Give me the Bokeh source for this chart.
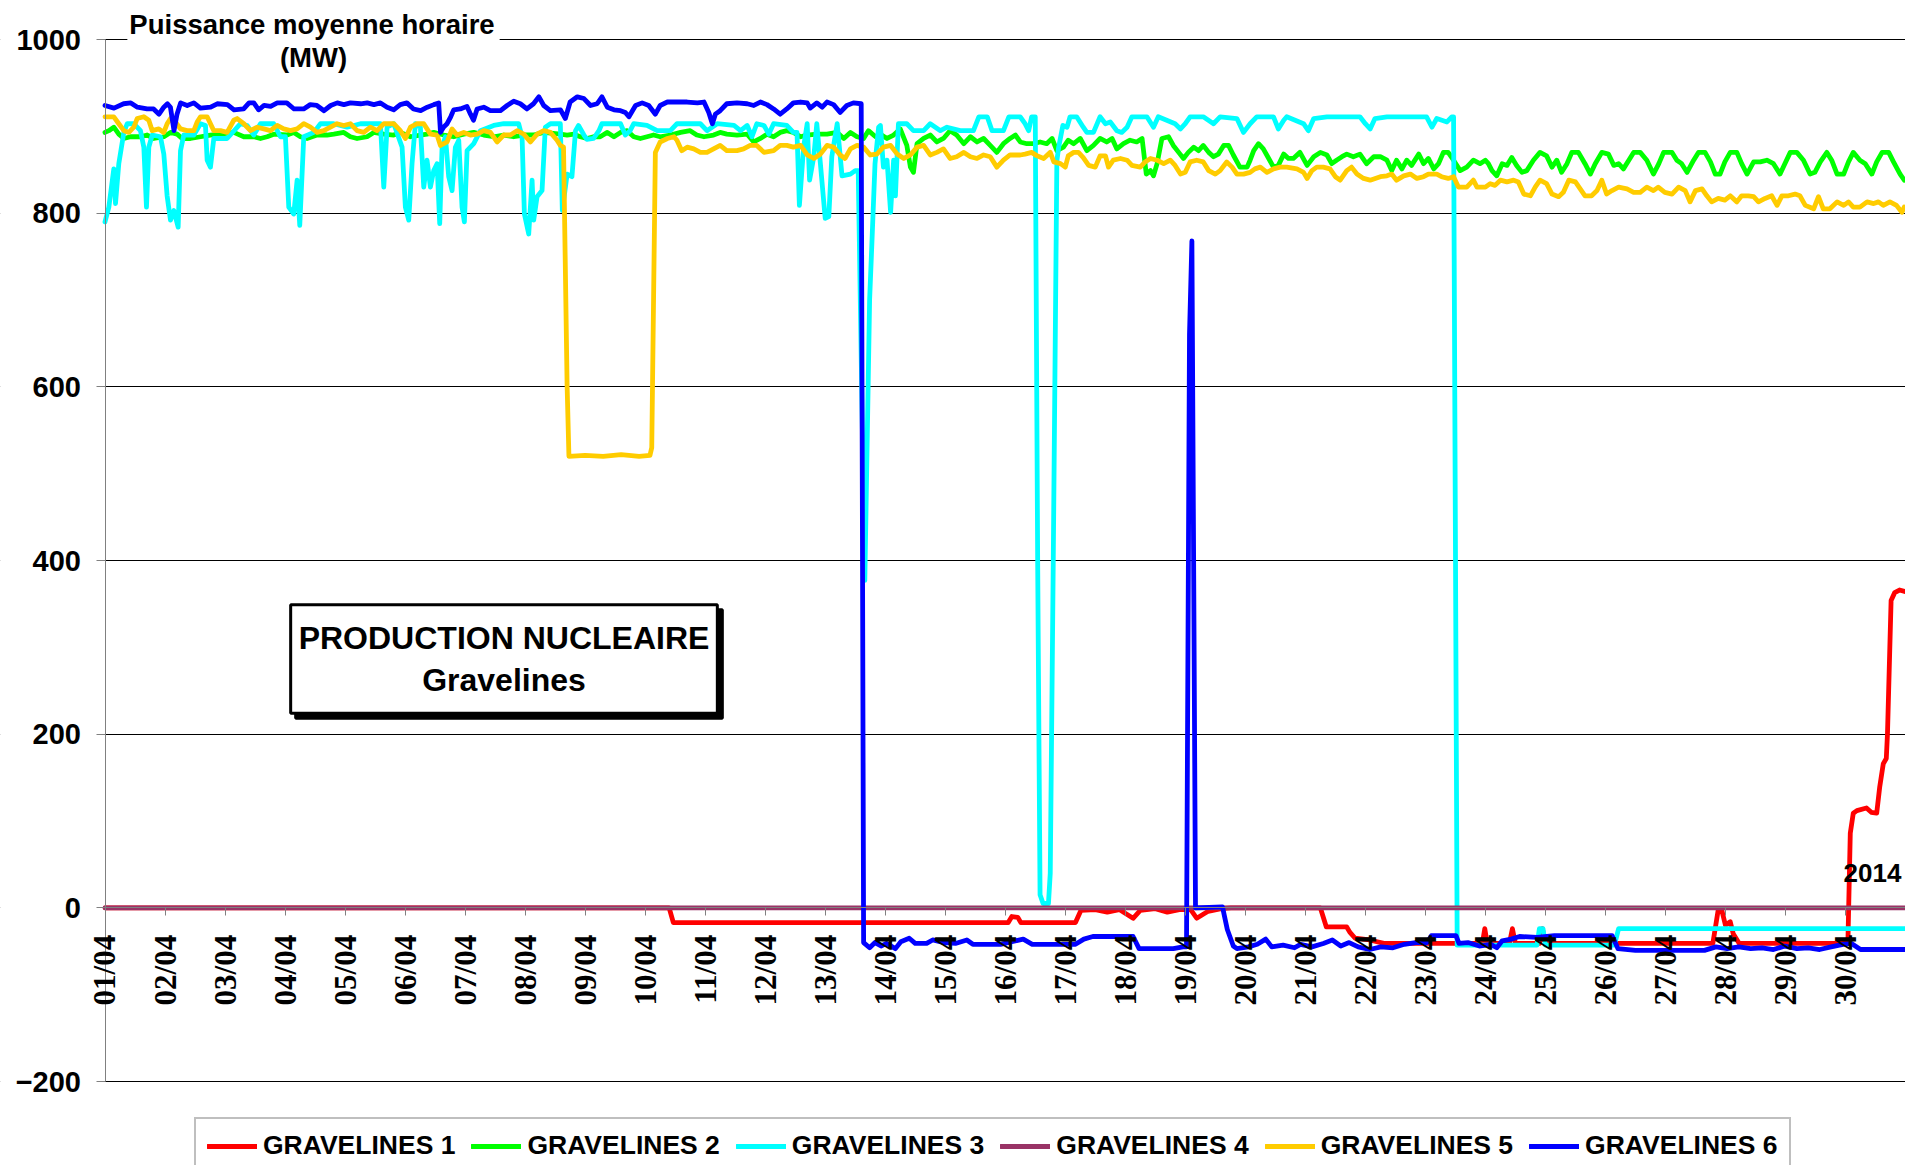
import math
from bokeh.plotting import figure
from bokeh.models import (Range1d, FixedTicker, Label, LabelSet, Legend, LegendItem,
                          ColumnDataSource, BoxAnnotation)
from bokeh.embed import file_html
from bokeh.resources import INLINE

# ---------------- data (day index from 01/04 00:00, MW) ----------------
DAY_LABELS = ["01/04", "02/04", "03/04", "04/04", "05/04", "06/04", "07/04", "08/04", "09/04", "10/04",
              "11/04", "12/04", "13/04", "14/04", "15/04", "16/04", "17/04", "18/04", "19/04", "20/04",
              "21/04", "22/04", "23/04", "24/04", "25/04", "26/04", "27/04", "28/04", "29/04", "30/04"]
Y_TICKS = [-200, 0, 200, 400, 600, 800, 1000]
SERIES_NAMES = ["GRAVELINES 1", "GRAVELINES 2", "GRAVELINES 3", "GRAVELINES 4", "GRAVELINES 5", "GRAVELINES 6"]

G1 = [(0, 0), (9.40, 0), (9.47, -17), (15.05, -17), (15.11, -10), (15.21, -11), (15.26, -17), (16.17, -17),
      (16.26, -3), (16.5, -2), (16.7, -5), (16.9, -2), (17.13, -12), (17.25, -3), (17.5, -1), (17.7, -5),
      (17.9, -2), (18.09, -2), (18.19, -12), (18.38, -4), (18.6, -1), (18.76, 0), (20.25, 0), (20.35, -22),
      (20.69, -22), (20.74, -28), (20.83, -35), (21.07, -37), (21.31, -41), (22.95, -41), (22.99, -24),
      (23.03, -41), (23.40, -41), (23.45, -24), (23.50, -41), (23.90, -41), (23.95, -24), (24.0, -41),
      (26.79, -41), (26.88, -2), (26.94, -3), (27.0, -20), (27.08, -16), (27.13, -30), (27.23, -41),
      (29.04, -41), (29.08, 86), (29.13, 109), (29.19, 112), (29.35, 115), (29.43, 110), (29.52, 109),
      (29.57, 139), (29.63, 166), (29.68, 172), (29.70, 201), (29.76, 354), (29.82, 363), (29.9, 366), (30.0, 364)]

G2 = [(0.0, 893), (0.064, 895), (0.147, 899), (0.23, 891), (0.314, 886), (0.425, 888), (0.591, 888), (0.702, 890),
      (0.813, 886), (0.98, 888), (1.091, 893), (1.202, 891), (1.285, 886), (1.424, 886), (1.591, 888), (1.757, 890),
      (1.924, 891), (2.146, 893), (2.313, 888), (2.479, 888), (2.59, 886), (2.701, 888), (2.812, 891), (3.034, 890),
      (3.145, 893), (3.256, 888), (3.367, 886), (3.534, 890), (3.7, 890), (3.812, 891), (3.978, 893), (4.089, 888),
      (4.2, 886), (4.367, 888), (4.478, 893), (4.645, 891), (4.811, 890), (4.922, 893), (5.089, 888), (5.255, 890),
      (5.366, 891), (5.477, 893), (5.644, 890), (5.811, 888), (5.977, 891), (6.144, 893), (6.31, 890), (6.477, 888),
      (6.644, 890), (6.81, 888), (6.977, 890), (7.143, 890), (7.31, 893), (7.587, 891),
      (7.70, 890), (7.81, 891), (7.92, 888), (8.03, 886), (8.14, 888), (8.25, 888), (8.37, 893), (8.48, 888),
      (8.59, 893), (8.70, 895), (8.81, 888), (8.92, 886), (9.03, 888), (9.14, 890), (9.25, 888), (9.42, 890),
      (9.59, 893), (9.75, 895), (9.86, 890), (9.98, 888), (10.14, 890), (10.25, 893), (10.36, 891), (10.53, 890),
      (10.70, 891), (10.81, 882), (10.92, 886), (11.03, 891), (11.14, 888), (11.25, 893), (11.36, 895), (11.47, 893),
      (11.59, 888), (11.70, 890), (11.86, 891), (12.03, 891), (12.20, 893), (12.31, 886), (12.42, 893), (12.53, 888),
      (12.64, 886), (12.72, 895), (12.84, 888), (12.92, 891), (13.03, 886), (13.14, 890), (13.25, 897), (13.36, 878),
      (13.42, 853), (13.47, 847), (13.53, 880), (13.64, 886), (13.75, 890), (13.86, 882), (13.97, 886), (14.08, 895),
      (14.19, 890), (14.31, 880), (14.42, 888), (14.53, 882), (14.64, 886), (14.75, 878), (14.86, 870), (14.97, 880),
      (15.08, 886), (15.17, 890), (15.25, 882),
      (15.36, 880), (15.47, 880), (15.58, 882), (15.69, 880), (15.78, 886), (15.86, 872), (15.97, 876), (16.05, 884),
      (16.14, 880), (16.25, 886), (16.36, 872), (16.47, 878), (16.58, 886), (16.69, 882), (16.78, 886), (16.86, 874),
      (16.97, 880), (17.08, 884), (17.19, 882), (17.28, 886), (17.35, 845), (17.42, 849), (17.47, 843), (17.53, 857),
      (17.61, 886), (17.72, 888), (17.80, 878), (17.89, 870), (17.97, 863), (18.05, 870), (18.14, 876), (18.22, 872),
      (18.30, 878), (18.39, 870), (18.47, 865), (18.55, 868), (18.64, 878), (18.72, 878), (18.80, 867), (18.91, 853),
      (19.03, 853), (19.08, 861), (19.14, 872), (19.22, 880), (19.30, 874), (19.39, 863), (19.47, 853), (19.55, 855),
      (19.64, 868), (19.72, 863), (19.80, 863), (19.91, 870), (20.03, 855), (20.14, 865), (20.25, 870), (20.36, 867),
      (20.44, 857), (20.52, 861), (20.61, 865), (20.69, 868), (20.80, 865), (20.91, 868), (21.02, 857), (21.14, 865),
      (21.25, 865), (21.36, 861), (21.44, 849), (21.52, 861), (21.61, 851), (21.69, 861), (21.77, 855), (21.89, 868),
      (21.97, 857), (22.05, 863), (22.14, 851), (22.22, 857), (22.30, 870), (22.38, 870), (22.47, 861), (22.58, 849),
      (22.69, 853), (22.80, 861), (22.91, 857),
      (23.0, 861), (23.05, 857), (23.11, 849), (23.19, 843), (23.28, 857), (23.36, 855), (23.44, 864), (23.52, 855),
      (23.61, 847), (23.69, 849), (23.80, 861), (23.91, 870), (24.02, 866), (24.11, 853), (24.19, 861), (24.27, 847),
      (24.36, 857), (24.44, 870), (24.55, 870), (24.66, 857), (24.75, 845), (24.83, 857), (24.94, 870), (25.05, 868),
      (25.14, 855), (25.22, 857), (25.30, 851), (25.39, 861), (25.47, 870), (25.58, 870), (25.69, 861), (25.80, 845),
      (25.89, 857), (25.97, 870), (26.11, 870), (26.19, 861), (26.27, 857), (26.36, 847), (26.47, 861), (26.55, 870),
      (26.66, 870), (26.75, 859), (26.83, 845), (26.91, 845), (26.99, 859), (27.08, 870), (27.19, 870), (27.27, 857),
      (27.36, 845), (27.47, 859), (27.58, 859), (27.69, 861), (27.80, 857), (27.91, 845), (27.99, 857), (28.08, 870),
      (28.19, 870), (28.30, 861), (28.41, 845), (28.49, 847), (28.58, 859), (28.69, 870), (28.77, 861), (28.86, 845),
      (28.97, 845), (29.05, 859), (29.13, 870), (29.24, 861), (29.33, 857), (29.44, 845), (29.52, 859), (29.61, 870),
      (29.72, 870), (29.80, 859), (29.91, 845), (29.98, 838)]

G3 = [(0.0, 790), (0.064, 807), (0.147, 851), (0.175, 811), (0.23, 857), (0.314, 893), (0.369, 903), (0.48, 903),
      (0.591, 895), (0.647, 876), (0.691, 807), (0.73, 876), (0.786, 890), (0.924, 888), (0.98, 868), (1.035, 820),
      (1.091, 792), (1.147, 803), (1.219, 784), (1.258, 872), (1.313, 890), (1.48, 890), (1.591, 903), (1.674, 901),
      (1.702, 861), (1.757, 853), (1.813, 886), (2.035, 886), (2.257, 903), (2.368, 901), (2.479, 890), (2.59, 903),
      (2.812, 903), (2.923, 888), (3.006, 888), (3.062, 807), (3.145, 799), (3.201, 838), (3.245, 786), (3.312, 888),
      (3.479, 893), (3.59, 903), (3.812, 903), (4.034, 899), (4.256, 903), (4.589, 903), (4.645, 830), (4.70, 899),
      (4.811, 903), (4.95, 876), (5.005, 807), (5.061, 792), (5.116, 857), (5.172, 903), (5.255, 899), (5.311, 830),
      (5.366, 861), (5.422, 830), (5.477, 849), (5.533, 857), (5.577, 788), (5.616, 876), (5.672, 888), (5.727, 842),
      (5.783, 826), (5.838, 876), (5.894, 884), (5.949, 807), (5.988, 790), (6.033, 872), (6.144, 880), (6.255, 895),
      (6.477, 901), (6.644, 903), (6.893, 903), (6.949, 888), (6.988, 799), (7.06, 776), (7.116, 838), (7.143, 792),
      (7.199, 819), (7.282, 826), (7.337, 899), (7.421, 903), (7.587, 903),
      (7.62, 803), (7.70, 845), (7.78, 842), (7.84, 895), (7.89, 901), (7.98, 890), (8.03, 885), (8.14, 886),
      (8.23, 895), (8.28, 903), (8.59, 903), (8.67, 890), (8.75, 895), (8.81, 903), (9.03, 901), (9.20, 895),
      (9.42, 895), (9.53, 903), (9.92, 903), (10.03, 895), (10.20, 903), (10.48, 901), (10.59, 895), (10.70, 901),
      (10.78, 888), (10.86, 903), (10.98, 901), (11.06, 891), (11.14, 903), (11.36, 901), (11.47, 893), (11.53, 893),
      (11.57, 809), (11.64, 876), (11.70, 903), (11.74, 838), (11.81, 865), (11.86, 903), (11.92, 857), (12.00, 794),
      (12.06, 796), (12.11, 865), (12.20, 903), (12.28, 843), (12.42, 845), (12.50, 849), (12.55, 849), (12.66, 377),
      (12.74, 700), (12.78, 769), (12.83, 857), (12.89, 899), (12.92, 901), (12.97, 853), (13.03, 861), (13.09, 801),
      (13.14, 861), (13.17, 820), (13.22, 903), (13.36, 903), (13.47, 895), (13.64, 895), (13.75, 903), (13.92, 895),
      (14.03, 899), (14.25, 895), (14.47, 895), (14.56, 911), (14.70, 911), (14.78, 895), (14.97, 895), (15.06, 911),
      (15.25, 911), (15.33, 903), (15.39, 895), (15.44, 911), (15.50, 911), (15.54, 400), (15.58, 15), (15.63, 5),
      (15.72, 5), (15.75, 40), (15.80, 400), (15.86, 860), (15.89, 876), (15.96, 901), (16.03, 899), (16.08, 911),
      (16.19, 911), (16.30, 899), (16.36, 893), (16.47, 893), (16.58, 911), (16.67, 903), (16.75, 905), (16.86, 895),
      (16.94, 893), (17.03, 899), (17.11, 911), (17.36, 911), (17.47, 899), (17.55, 911), (17.83, 903), (17.92, 897),
      (18.0, 903), (18.08, 911), (18.30, 911), (18.47, 903), (18.58, 911), (18.86, 909), (18.97, 893), (19.08, 903),
      (19.19, 911), (19.47, 911), (19.55, 897), (19.64, 907), (19.69, 911), (19.97, 903), (20.05, 895), (20.14, 909),
      (20.36, 911), (20.91, 911), (21.0, 903), (21.08, 897), (21.16, 909), (21.36, 911), (22.02, 911), (22.11, 899),
      (22.19, 909), (22.36, 905), (22.44, 911), (22.47, 911), (22.53, -43), (23.86, -43), (23.90, -24), (23.96, -24),
      (24.0, -43), (25.15, -43), (25.22, -24), (30.0, -24)]

G4 = [(0, 0), (30, 0)]

G5 = [(0.0, 911), (0.147, 911), (0.23, 903), (0.314, 895), (0.397, 893), (0.48, 899), (0.536, 909), (0.647, 911),
      (0.73, 907), (0.786, 895), (0.897, 897), (0.98, 893), (1.035, 903), (1.091, 909), (1.174, 905), (1.258, 897),
      (1.369, 895), (1.48, 895), (1.535, 905), (1.591, 911), (1.702, 911), (1.813, 895), (1.924, 895), (2.035, 893),
      (2.146, 907), (2.202, 909), (2.313, 903), (2.424, 895), (2.535, 899), (2.646, 897), (2.757, 895), (2.868, 901),
      (2.979, 897), (3.09, 895), (3.201, 897), (3.312, 903), (3.423, 899), (3.534, 893), (3.645, 895), (3.756, 899),
      (3.867, 903), (3.978, 901), (4.089, 903), (4.2, 895), (4.311, 893), (4.422, 899), (4.533, 895), (4.645, 903),
      (4.811, 903), (4.922, 895), (5.005, 886), (5.089, 899), (5.2, 903), (5.311, 903), (5.422, 891), (5.533, 890),
      (5.589, 878), (5.7, 882), (5.783, 897), (5.866, 890), (5.977, 893), (6.088, 890), (6.2, 891), (6.31, 895),
      (6.421, 893), (6.532, 882), (6.644, 890), (6.755, 890), (6.866, 895), (6.977, 891), (7.088, 882), (7.199, 891),
      (7.31, 895), (7.421, 893), (7.532, 884), (7.587, 878), (7.64, 876), (7.70, 600), (7.73, 520), (8.0, 521),
      (8.3, 520), (8.6, 522), (8.9, 520), (9.08, 521), (9.11, 530), (9.17, 870), (9.25, 882), (9.37, 886),
      (9.48, 888), (9.53, 884), (9.61, 872), (9.70, 876), (9.81, 874), (9.92, 870), (10.03, 870), (10.14, 874),
      (10.25, 878), (10.36, 872), (10.53, 872), (10.64, 874), (10.75, 878), (10.86, 878), (10.98, 870), (11.14, 872),
      (11.25, 878), (11.36, 878), (11.47, 876), (11.59, 878), (11.70, 867), (11.81, 863), (11.92, 868), (12.03, 878),
      (12.14, 876), (12.25, 867), (12.33, 863), (12.42, 874), (12.53, 878), (12.64, 876), (12.75, 867), (12.86, 868),
      (12.97, 876), (13.09, 878), (13.20, 868), (13.31, 863), (13.42, 867), (13.53, 876), (13.64, 878), (13.75, 867),
      (13.86, 870), (13.97, 874), (14.08, 863), (14.19, 865), (14.31, 870), (14.42, 865), (14.53, 863), (14.64, 867),
      (14.75, 865), (14.86, 853), (14.97, 861), (15.08, 867), (15.25, 867),
      (15.33, 868), (15.44, 870), (15.53, 866), (15.64, 863), (15.75, 870), (15.81, 859), (15.92, 857), (16.0, 853),
      (16.05, 866), (16.14, 870), (16.22, 870), (16.30, 864), (16.39, 855), (16.50, 853), (16.58, 866), (16.67, 866),
      (16.72, 853), (16.80, 861), (16.92, 863), (17.03, 861), (17.11, 855), (17.25, 853), (17.33, 859), (17.42, 863),
      (17.53, 861), (17.64, 857), (17.75, 861), (17.83, 855), (17.92, 845), (18.0, 847), (18.08, 859), (18.19, 861),
      (18.30, 859), (18.39, 849), (18.50, 845), (18.58, 849), (18.69, 859), (18.78, 853), (18.86, 845), (18.97, 845),
      (19.08, 847), (19.16, 851), (19.25, 853), (19.36, 847), (19.47, 851), (19.58, 853), (19.69, 853), (19.86, 851),
      (19.97, 847), (20.03, 840), (20.11, 849), (20.19, 853), (20.30, 853), (20.41, 851), (20.50, 842), (20.58, 838),
      (20.69, 849), (20.77, 853), (20.86, 845), (20.97, 840), (21.08, 838), (21.25, 842), (21.36, 843), (21.44, 845),
      (21.52, 838), (21.64, 843), (21.75, 845), (21.86, 840), (21.97, 842), (22.05, 845), (22.19, 845), (22.27, 842),
      (22.38, 840), (22.47, 842), (22.55, 830), (22.69, 830), (22.80, 838), (22.86, 830), (22.91, 830),
      (23.0, 830), (23.08, 834), (23.16, 832), (23.25, 838), (23.36, 836), (23.47, 838), (23.55, 836), (23.64, 822),
      (23.75, 820), (23.83, 830), (23.91, 838), (24.02, 834), (24.11, 822), (24.22, 819), (24.30, 824), (24.39, 838),
      (24.50, 836), (24.58, 828), (24.66, 820), (24.77, 820), (24.86, 826), (24.94, 838), (25.02, 822), (25.11, 826),
      (25.22, 830), (25.36, 828), (25.47, 824), (25.58, 824), (25.69, 830), (25.80, 826), (25.88, 830), (25.99, 824),
      (26.11, 822), (26.22, 830), (26.33, 826), (26.41, 813), (26.50, 826), (26.61, 828), (26.69, 820), (26.77, 813),
      (26.88, 817), (26.99, 815), (27.08, 820), (27.19, 813), (27.27, 820), (27.38, 820), (27.47, 819), (27.55, 813),
      (27.66, 817), (27.77, 820), (27.86, 809), (27.94, 820), (28.05, 820), (28.16, 822), (28.24, 820), (28.33, 809),
      (28.47, 805), (28.55, 819), (28.63, 805), (28.74, 805), (28.86, 813), (28.97, 809), (29.05, 813), (29.13, 807),
      (29.24, 807), (29.36, 813), (29.47, 811), (29.55, 813), (29.63, 809), (29.74, 813), (29.85, 809), (29.94, 801),
      (29.98, 807)]

G6 = [(0.0, 924), (0.15, 921), (0.31, 926), (0.43, 927), (0.54, 922), (0.70, 920), (0.81, 920), (0.90, 914),
      (0.98, 922), (1.04, 926), (1.09, 922), (1.15, 895), (1.20, 914), (1.26, 927), (1.37, 924), (1.48, 927),
      (1.59, 921), (1.76, 922), (1.87, 926), (2.04, 925), (2.15, 919), (2.31, 920), (2.40, 927), (2.48, 927),
      (2.56, 919), (2.65, 924), (2.76, 923), (2.87, 927), (3.03, 927), (3.15, 920), (3.31, 920), (3.42, 925),
      (3.53, 924), (3.65, 918), (3.76, 924), (3.87, 927), (3.98, 925), (4.09, 927), (4.26, 926), (4.37, 927),
      (4.48, 925), (4.59, 927), (4.70, 922), (4.81, 919), (4.92, 925), (5.03, 927), (5.14, 920), (5.26, 918),
      (5.37, 922), (5.48, 925), (5.56, 927), (5.59, 893), (5.64, 899), (5.70, 903), (5.76, 911), (5.81, 919),
      (5.92, 920), (6.03, 923), (6.09, 914), (6.14, 907), (6.20, 920), (6.31, 922), (6.42, 918), (6.59, 918),
      (6.70, 924), (6.81, 929), (6.92, 926), (7.03, 920), (7.14, 926), (7.23, 934), (7.31, 924), (7.42, 918),
      (7.59, 919), (7.67, 909), (7.75, 928), (7.87, 934), (7.98, 932), (8.09, 924), (8.20, 926), (8.28, 934),
      (8.37, 922), (8.48, 919), (8.59, 918), (8.67, 916), (8.73, 911), (8.84, 924), (8.95, 927), (9.06, 924),
      (9.17, 914), (9.25, 924), (9.37, 928), (9.53, 928), (9.70, 928), (9.87, 927), (9.98, 928), (10.06, 916),
      (10.12, 903), (10.17, 914), (10.25, 918), (10.36, 926), (10.53, 927), (10.70, 926), (10.81, 924), (10.92, 928),
      (11.03, 925), (11.14, 920), (11.25, 914), (11.36, 920), (11.47, 927), (11.59, 928), (11.70, 927), (11.75, 921),
      (11.86, 927), (11.95, 922), (12.03, 928), (12.14, 925), (12.25, 916), (12.36, 924), (12.47, 927), (12.60, 926),
      (12.64, -40), (12.74, -46), (12.83, -40), (12.93, -44), (13.02, -41), (13.17, -47), (13.26, -39), (13.40, -35),
      (13.50, -41), (13.69, -41), (13.79, -37), (13.98, -40), (14.17, -41), (14.36, -37), (14.46, -42), (14.92, -42),
      (15.11, -39), (15.30, -36), (15.45, -42), (15.88, -42), (16.17, -42), (16.31, -36), (16.46, -33), (17.13, -33),
      (17.23, -47), (17.80, -47), (17.96, -45), (18.02, -45), (18.07, 660), (18.11, 768), (18.17, 0), (18.62, 1),
      (18.70, -25), (18.80, -44), (18.86, -47), (19.05, -45), (19.20, -42), (19.34, -36), (19.44, -45), (19.63, -43),
      (19.82, -46), (19.92, -42), (20.11, -45), (20.30, -41), (20.45, -37), (20.59, -44), (20.73, -40), (20.88, -45),
      (21.07, -48), (21.26, -45), (21.46, -46), (21.65, -42), (21.84, -40), (22.03, -40), (22.10, -32), (22.51, -32),
      (22.56, -41), (22.71, -40), (22.90, -44), (23.09, -42), (23.19, -46), (23.28, -38), (23.43, -36), (23.57, -33),
      (23.86, -34), (24.15, -32), (25.11, -32), (25.21, -47), (25.50, -49), (26.65, -49), (26.84, -45), (27.03, -47),
      (27.22, -45), (27.42, -47), (27.61, -46), (27.80, -48), (27.99, -44), (28.19, -47), (28.38, -46), (28.57, -48),
      (28.76, -45), (28.96, -42), (29.10, -41), (29.25, -48), (30.0, -48)]

SERIES = [G1, G2, G3, G4, G5, G6]
COLORS = ["#FF0000", "#00FF00", "#00FFFF", "#993366", "#FFCC00", "#0000FF"]

# ---------------- layout ----------------
FONT = "Liberation Sans"
W, H = 1905, 1165
AXIS_X, TOP_Y = 104.5, 39.0          # canvas px of the y axis and of the 1000 line
PX_PER_DAY = (W - AXIS_X) / 30.0
PX_PER_MW = 1042 / 1200.0
X_START = -AXIS_X / PX_PER_DAY
Y_END = 1000 + TOP_Y / PX_PER_MW
Y_START = 1000 - (H - TOP_Y) / PX_PER_MW

p = figure(width=W, height=H, output_backend="svg", toolbar_location=None,
           x_range=Range1d(X_START, 30), y_range=Range1d(Y_START, Y_END),
           min_border=0, min_border_left=0, min_border_right=0, min_border_top=0, min_border_bottom=0)
p.outline_line_color = None
p.background_fill_color = "white"
p.border_fill_color = "white"

# grid
p.xgrid.grid_line_color = None
p.ygrid.ticker = FixedTicker(ticks=Y_TICKS)
p.ygrid.grid_line_color = "#000000"
p.ygrid.grid_line_width = 1

# white mask: grid lines start at the y axis
mask = BoxAnnotation(left=X_START - 1.0, right=0, bottom=Y_START - 50, top=Y_END + 50, fill_color="white",
                     fill_alpha=1.0, line_color=None, line_alpha=0, level="underlay")
p.add_layout(mask)

# y axis at x = 0
ya = p.yaxis[0]
ya.fixed_location = 0
ya.ticker = FixedTicker(ticks=Y_TICKS)
ya.bounds = (-200, 1000)
ya.axis_line_color = "#808080"
ya.axis_line_width = 1
ya.major_tick_line_color = "#808080"
ya.major_tick_line_width = 1
ya.major_tick_out = 9
ya.major_tick_in = 0
ya.minor_tick_out = 0
ya.minor_tick_in = 0
ya.major_label_standoff = 15
ya.major_label_text_font = FONT
ya.major_label_text_font_size = "29px"
ya.major_label_text_font_style = "bold"
ya.major_label_text_color = "#000000"

# x axis at y = 0 (ticks; labels drawn as a label set)
xa = p.xaxis[0]
xa.fixed_location = 0
xa.bounds = (0, 30)
xa.ticker = FixedTicker(ticks=list(range(len(DAY_LABELS))))
xa.axis_line_color = "#808080"
xa.major_tick_line_color = "#808080"
xa.major_tick_out = 8
xa.major_tick_in = 0
xa.minor_tick_out = 0
xa.minor_tick_in = 0
xa.major_label_text_font_size = "0px"
xa.major_label_text_alpha = 0

# lines
renderers = []
for pts, col in zip(SERIES, COLORS):
    xs = [d for d, _ in pts]
    ys = [v for _, v in pts]
    r = p.line(xs, ys, line_color=col, line_width=4.8, line_join="round", line_cap="round")
    renderers.append(r)

tick_src = ColumnDataSource(dict(x=list(range(len(DAY_LABELS))), y=[0] * len(DAY_LABELS), text=DAY_LABELS))
tick_labels = LabelSet(x="x", y="y", text="text", source=tick_src, angle=math.pi / 2,
                       text_align="right", text_baseline="middle", y_offset=-27,
                       text_font=FONT, text_font_size="31px", text_font_style="bold", text_color="#000000")
p.add_layout(tick_labels)

# legend below the plot area
items = [LegendItem(label=n, renderers=[r]) for n, r in zip(SERIES_NAMES, renderers)]
legend = Legend(items=items, orientation="horizontal", location=(194, -9),
                label_text_font=FONT, label_text_font_size="26.5px", label_text_font_style="bold",
                label_text_color="#000000", glyph_width=50, glyph_height=30, label_standoff=6,
                spacing=16, padding=11, margin=0, border_line_color="#808080", border_line_width=2,
                background_fill_color="white", background_fill_alpha=1.0)
p.add_layout(legend)

# axis title (two lines); screen units are canvas px, y measured up from the bottom
title1 = Label(x=313, y=H - 22, x_units="screen", y_units="screen",
               text="Puissance moyenne horaire", text_align="center", text_baseline="middle",
               text_font=FONT, text_font_size="27.5px", text_font_style="bold",
               text_color="#000000", background_fill_color="white", padding=(2, 5, 9, 5))
title2 = Label(x=313, y=H - 57, x_units="screen", y_units="screen",
               text="(MW)", text_align="center", text_baseline="middle",
               text_font=FONT, text_font_size="27.5px", text_font_style="bold",
               text_color="#000000")
p.add_layout(title1)
p.add_layout(title2)

# boxed caption with shadow
box_text = "PRODUCTION NUCLEAIRE\nGravelines"
cap_x = 503.5
cap_y = H - 658.5
for dx, dy, fill in ((5, -5, "#000000"), (0, 0, "white")):
    p.add_layout(Label(x=cap_x + dx, y=cap_y + dy, x_units="screen", y_units="screen", text=box_text,
                       text_align="center", text_baseline="middle", text_font=FONT, text_font_size="32px",
                       text_font_style="bold", text_line_height=1.18, text_color="#000000",
                       background_fill_color=fill, border_line_color="#000000", border_line_width=3,
                       padding=(8, 8, 15, 15)))

year = Label(x=1843, y=H - 872, x_units="screen", y_units="screen", text="2014",
             text_align="left", text_baseline="middle", text_font=FONT, text_font_size="26px",
             text_font_style="bold", text_color="#000000")
p.add_layout(year)

open("out.html", "w").write(file_html(p, INLINE))
